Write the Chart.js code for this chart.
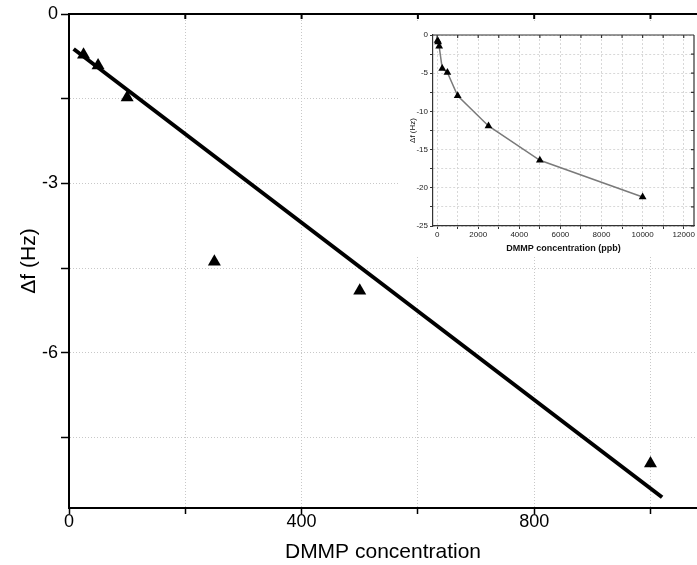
<!DOCTYPE html>
<html>
<head>
<meta charset="utf-8">
<script src="https://cdn.jsdelivr.net/npm/chart.js@4.4.0/dist/chart.umd.min.js"></script>
<style>
  html, body { margin: 0; padding: 0; background: #fff; }
  #wrap { position: relative; width: 697px; height: 565px; overflow: hidden; }
  #mainChart { position: absolute; left: 0; top: 0; }
  #insetChart { position: absolute; left: 400px; top: 22px; background: #fff; }
</style>
</head>
<body>
<div id="wrap">
  <canvas id="mainChart" width="697" height="565"></canvas>
  <canvas id="insetChart" width="297" height="233"></canvas>
</div>
<script>
// main plot: DMMP concentration vs frequency shift (Hz)
const concMain = [25, 50, 100, 250, 500, 1000];
const shiftMain = [-0.72, -0.91, -1.48, -4.39, -4.9, -7.96];
// linear fit line, two end points
const fitX = [8, 1020];
const fitY = [-0.62, -8.56];

// inset: full range in ppb
const concInset = [25, 50, 100, 250, 500, 1000, 2500, 5000, 10000];
const shiftInset = [-0.72, -0.91, -1.48, -4.39, -4.9, -7.96, -11.9, -16.4, -21.2];

const xTicksMain = [0, 200, 400, 600, 800, 1000];
const xLabelsMain = [0, 400, 800];
const yTicksMain = [0, -1.5, -3, -4.5, -6, -7.5];
const yLabelsMain = [0, -3, -6];

const xTicksInset = [0, 1000, 2000, 3000, 4000, 5000, 6000, 7000, 8000, 9000, 10000, 11000, 12000];
const xLabelsInset = [0, 2000, 4000, 6000, 8000, 10000, 12000];
const yTicksInset = [0, -2.5, -5, -7.5, -10, -12.5, -15, -17.5, -20, -22.5, -25];
const yLabelsInset = [0, -5, -10, -15, -20, -25];

const FONT = "'Liberation Sans', Arial, sans-serif";

// draws top (and right) frame lines with inward ticks
const framePlugin = {
    id: 'frame',
    afterDraw(chart, args, opts) {
        const { ctx, chartArea, scales } = chart;
        ctx.save();
        ctx.strokeStyle = opts.color;
        ctx.lineWidth = opts.width;
        ctx.beginPath();
        ctx.moveTo(chartArea.left, chartArea.top);
        ctx.lineTo(chartArea.right, chartArea.top);
        scales.x.ticks.forEach(t => {
            const px = scales.x.getPixelForValue(t.value);
            ctx.moveTo(px, chartArea.top);
            ctx.lineTo(px, chartArea.top + opts.tickLen);
        });
        if (opts.right) {
            ctx.moveTo(chartArea.right, chartArea.top);
            ctx.lineTo(chartArea.right, chartArea.bottom);
            scales.y.ticks.forEach(t => {
                const py = scales.y.getPixelForValue(t.value);
                ctx.moveTo(chartArea.right, py);
                ctx.lineTo(chartArea.right - opts.tickLen, py);
            });
        }
        ctx.stroke();
        ctx.restore();
    }
};

const setTicks = list => scale => { scale.ticks = list.map(v => ({ value: v })); };

new Chart(document.getElementById('mainChart'), {
    type: 'scatter',
    data: {
        datasets: [{
            data: concMain.map((x, i) => ({ x: x, y: shiftMain[i] })),
            pointStyle: 'triangle',
            pointRadius: 7.5,
            backgroundColor: '#000',
            borderColor: '#000',
            borderWidth: 0
        }, {
            data: fitX.map((x, i) => ({ x: x, y: fitY[i] })),
            showLine: true,
            borderColor: '#000',
            borderWidth: 4,
            pointRadius: 0
        }]
    },
    options: {
        responsive: false,
        animation: false,
        devicePixelRatio: 1,
        layout: { autoPadding: false, padding: { top: 14, right: 0, left: 0, bottom: 0 } },
        plugins: {
            legend: { display: false },
            tooltip: { enabled: false },
            frame: { color: '#000', width: 2, tickLen: 5, right: false }
        },
        scales: {
            x: {
                type: 'linear',
                min: 0,
                max: 1080,
                afterBuildTicks: setTicks(xTicksMain),
                afterFit: s => { s.height = 57; s.paddingRight = 0; s.paddingLeft = 0; },
                grid: { color: '#c8c8c8', lineWidth: 1, tickLength: 6, tickColor: '#000', tickWidth: 1.5, tickBorderDash: [] },
                border: { display: true, color: '#000', width: 2, dash: [1, 2] },
                ticks: {
                    color: '#000',
                    padding: -3,
                    maxRotation: 0,
                    autoSkip: false,
                    font: { family: FONT, size: 18 },
                    callback: v => xLabelsMain.includes(v) ? String(v) : ''
                },
                title: {
                    display: true,
                    text: 'DMMP concentration',
                    color: '#000',
                    font: { family: FONT, size: 21 },
                    padding: { top: 0, bottom: 0 }
                }
            },
            y: {
                type: 'linear',
                min: -8.75,
                max: 0,
                afterBuildTicks: setTicks(yTicksMain),
                afterFit: s => { s.width = 69; s.paddingTop = 0; s.paddingBottom = 0; },
                grid: { color: '#c8c8c8', lineWidth: 1, tickLength: 8, tickColor: '#000', tickWidth: 1.5, tickBorderDash: [] },
                border: { display: true, color: '#000', width: 2, dash: [1, 2] },
                ticks: {
                    color: '#000',
                    padding: 3,
                    autoSkip: false,
                    font: { family: FONT, size: 18 },
                    callback: v => yLabelsMain.includes(v) ? String(v) : ''
                },
                title: {
                    display: true,
                    text: 'Δf (Hz)',
                    color: '#000',
                    font: { family: FONT, size: 21 },
                    padding: { top: 17, bottom: 0 }
                }
            }
        }
    },
    plugins: [framePlugin]
});

new Chart(document.getElementById('insetChart'), {
    type: 'scatter',
    data: {
        datasets: [{
            data: concInset.map((x, i) => ({ x: x, y: shiftInset[i] })),
            showLine: true,
            borderColor: '#7a7a7a',
            borderWidth: 1.5,
            pointStyle: 'triangle',
            pointRadius: 4.5,
            pointBackgroundColor: '#000',
            pointBorderColor: '#000',
            pointBorderWidth: 0
        }]
    },
    options: {
        responsive: false,
        animation: false,
        devicePixelRatio: 1,
        layout: { autoPadding: false, padding: { top: 13, right: 3, left: 0, bottom: 0 } },
        plugins: {
            legend: { display: false },
            tooltip: { enabled: false },
            frame: { color: '#333', width: 1.2, tickLen: 3, right: true }
        },
        scales: {
            x: {
                type: 'linear',
                min: -200,
                max: 12500,
                afterBuildTicks: setTicks(xTicksInset),
                afterFit: s => { s.height = 29; s.paddingRight = 0; s.paddingLeft = 0; },
                grid: { color: '#d8d8d8', lineWidth: 1, tickLength: 3, tickColor: '#333', tickBorderDash: [] },
                border: { display: true, color: '#333', width: 1.2, dash: [2, 2] },
                ticks: {
                    color: '#222',
                    padding: 1,
                    maxRotation: 0,
                    autoSkip: false,
                    font: { family: FONT, size: 8 },
                    callback: v => xLabelsInset.includes(v) ? String(v) : ''
                },
                title: {
                    display: true,
                    text: 'DMMP concentration (ppb)',
                    color: '#111',
                    font: { family: FONT, size: 9, weight: 'bold' },
                    padding: { top: 0, bottom: 1 }
                }
            },
            y: {
                type: 'linear',
                min: -25,
                max: 0,
                afterBuildTicks: setTicks(yTicksInset),
                afterFit: s => { s.width = 33; s.paddingTop = 0; s.paddingBottom = 0; },
                grid: { color: '#d8d8d8', lineWidth: 1, tickLength: 3, tickColor: '#333', tickBorderDash: [] },
                border: { display: true, color: '#333', width: 1.2, dash: [2, 2] },
                ticks: {
                    color: '#222',
                    padding: 2,
                    autoSkip: false,
                    font: { family: FONT, size: 8 },
                    callback: v => yLabelsInset.includes(v) ? String(v) : ''
                },
                title: {
                    display: true,
                    text: 'Δf (Hz)',
                    color: '#111',
                    font: { family: FONT, size: 8 },
                    padding: { top: 8, bottom: 0 }
                }
            }
        }
    },
    plugins: [framePlugin]
});
</script>
</body>
</html>
